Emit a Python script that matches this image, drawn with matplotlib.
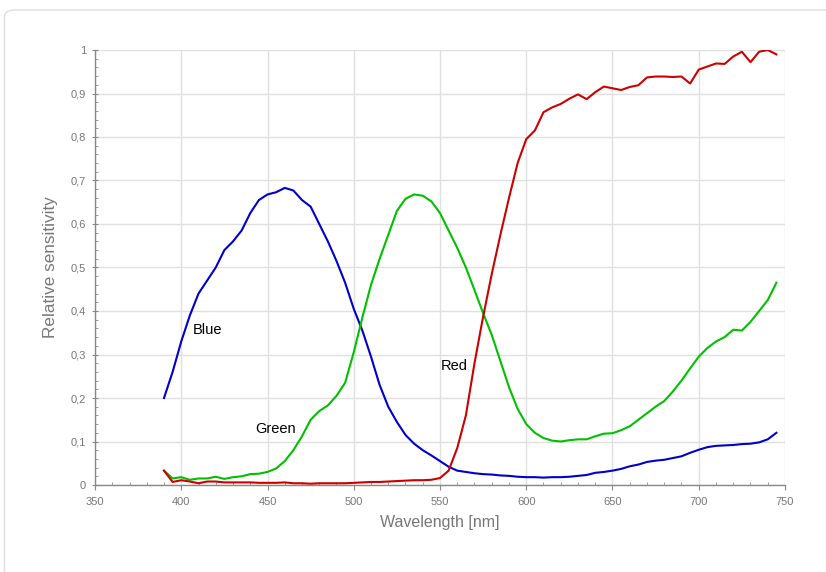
import numpy as np
import matplotlib
matplotlib.use("Agg")
import matplotlib.pyplot as plt
from matplotlib.patches import FancyBboxPatch
from matplotlib.ticker import MultipleLocator, FuncFormatter

plt.rcParams['font.family'] = ['Liberation Sans', 'DejaVu Sans']

# wavelengths in nm, 5 nm steps
wavelength = list(range(390, 750, 5))

blue = [0.20, 0.26, 0.33, 0.39, 0.44, 0.47, 0.50, 0.54, 0.56, 0.585,
        0.625, 0.655, 0.668, 0.673, 0.683, 0.677, 0.655, 0.640, 0.600, 0.560,
        0.515, 0.465, 0.405, 0.355, 0.295, 0.230, 0.180, 0.145, 0.115, 0.095,
        0.080, 0.068, 0.055, 0.042, 0.033, 0.030, 0.027, 0.025, 0.024, 0.022,
        0.021, 0.019, 0.018, 0.018, 0.017, 0.018, 0.018, 0.019, 0.021, 0.023,
        0.028, 0.030, 0.033, 0.037, 0.043, 0.047, 0.053, 0.056, 0.058, 0.062,
        0.066, 0.074, 0.081, 0.087, 0.090, 0.091, 0.092, 0.094, 0.095, 0.098,
        0.105, 0.120]

green = [0.033, 0.015, 0.018, 0.012, 0.015, 0.015, 0.019, 0.014, 0.018, 0.020,
         0.025, 0.026, 0.030, 0.038, 0.055, 0.080, 0.112, 0.150, 0.170, 0.183,
         0.205, 0.235, 0.305, 0.385, 0.460, 0.520, 0.575, 0.630, 0.658, 0.668,
         0.665, 0.652, 0.625, 0.585, 0.545, 0.500, 0.448, 0.395, 0.345, 0.285,
         0.225, 0.175, 0.140, 0.120, 0.108, 0.102, 0.100, 0.103, 0.105, 0.105,
         0.112, 0.118, 0.119, 0.126, 0.135, 0.150, 0.165, 0.180, 0.193, 0.215,
         0.240, 0.268, 0.295, 0.315, 0.330, 0.340, 0.357, 0.355, 0.375, 0.400,
         0.425, 0.465]

red = [0.033, 0.007, 0.011, 0.008, 0.004, 0.008, 0.008, 0.006, 0.006, 0.006,
       0.006, 0.005, 0.005, 0.005, 0.006, 0.004, 0.004, 0.003, 0.004, 0.004,
       0.004, 0.004, 0.005, 0.006, 0.007, 0.007, 0.008, 0.009, 0.010, 0.011,
       0.011, 0.012, 0.016, 0.033, 0.085, 0.160, 0.280, 0.387, 0.485, 0.575,
       0.660, 0.740, 0.795, 0.815, 0.857, 0.868, 0.876, 0.888, 0.898, 0.887,
       0.903, 0.916, 0.912, 0.908, 0.915, 0.919, 0.937, 0.939, 0.939, 0.938,
       0.939, 0.923, 0.955, 0.962, 0.969, 0.968, 0.985, 0.996, 0.972, 0.996,
       1.000, 0.990]

series = [("Blue", blue, "#0000cc", (415.5, 0.357)),
          ("Green", green, "#00c000", (454.5, 0.129)),
          ("Red", red, "#cc0000", (558.0, 0.274))]

fig = plt.figure(figsize=(8.26, 5.72), dpi=100)

# card border around the chart
card = FancyBboxPatch((4.5 / 826, -20 / 572), 860 / 826, 582 / 572,
                      boxstyle="round,pad=0,rounding_size=0.012",
                      transform=fig.transFigure, facecolor="white",
                      edgecolor="#dddddd", linewidth=1.0, zorder=-10)
fig.patches.append(card)

ax = fig.add_axes([95 / 826, 87 / 572, 690 / 826, 435 / 572])
ax.set_facecolor("none")

for name, vals, col, pos in series:
    ax.plot(wavelength, vals, color=col, linewidth=1.5, zorder=3)
    ax.text(pos[0], pos[1], name, color="black", fontsize=10.5,
            ha="center", va="center", zorder=4)

ax.set_xlim(350, 750)
ax.set_ylim(0, 1)
ax.xaxis.set_major_locator(MultipleLocator(50))
ax.xaxis.set_minor_locator(MultipleLocator(10))
ax.yaxis.set_major_locator(MultipleLocator(0.1))
ax.yaxis.set_minor_locator(MultipleLocator(0.02))

def comma(v, pos):
    s = "%g" % round(v, 2)
    return s.replace(".", ",")

ax.yaxis.set_major_formatter(FuncFormatter(comma))

ax.grid(True, which="major", color="#e0e0e0", linewidth=1.0, zorder=0)
ax.set_axisbelow(True)

for side in ["top", "right"]:
    ax.spines[side].set_visible(False)
for side in ["left", "bottom"]:
    ax.spines[side].set_color("#888888")
    ax.spines[side].set_linewidth(1.0)

ax.tick_params(axis="x", which="major", direction="out", length=3.5,
               color="#888888", labelcolor="#777777", labelsize=8, pad=5)
ax.tick_params(axis="y", which="major", direction="inout", length=5,
               color="#888888", labelcolor="#777777", labelsize=8, pad=4)
ax.tick_params(which="minor", direction="in", length=2, color="#888888")

ax.set_xlabel("Wavelength [nm]", color="#777777", fontsize=11.5, labelpad=6)
ax.set_ylabel("Relative sensitivity", color="#777777", fontsize=12.3, labelpad=9)

fig.savefig("out.png", dpi=100)
